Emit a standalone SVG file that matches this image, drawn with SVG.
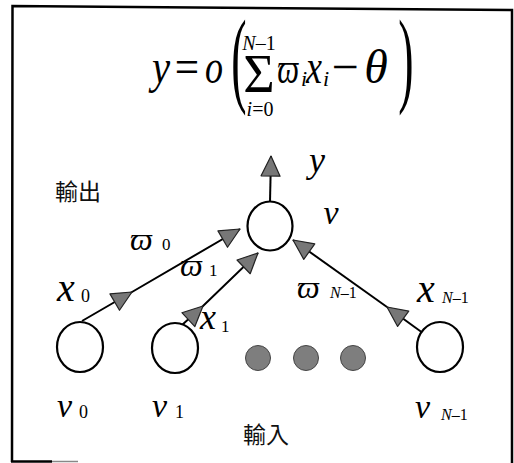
<svg xmlns="http://www.w3.org/2000/svg" width="514" height="463" viewBox="0 0 514 463">
<style>
.m{font-family:"Liberation Serif","DejaVu Serif",serif;font-style:italic;fill:#000}
.r{font-family:"Liberation Serif","DejaVu Serif",serif;font-style:normal;fill:#000}
.cjk{font-family:"Noto Sans CJK TC","Noto Sans CJK SC",sans-serif;font-size:23px;font-style:normal;fill:#111}
.node{fill:#fff;stroke:#000;stroke-width:2.2}
.dot{fill:#7e7e7e;stroke:#444;stroke-width:1}
.edge{fill:none;stroke:#000;stroke-width:2}
.frame{stroke:#000;stroke-width:2.5;fill:none}
</style>
<defs>
<marker id="ah" markerUnits="userSpaceOnUse" markerWidth="24" markerHeight="24" viewBox="-22 -12 24 24" refX="0" refY="0" orient="auto">
<path d="M0,0 L-20,-9.5 L-20,9.5 Z" fill="#777" stroke="#222" stroke-width="1.2" stroke-linejoin="round"/>
</marker>
</defs>
<g id="frame">
<path class="frame" d="M12,462 L12.5,6 L512,10 L512,463"/>
<path class="frame" d="M11,461.5 L52,461.5"/>
<path d="M52,461.5 L78,461.5" stroke="#888" stroke-width="1.5"/>
</g>
<g id="formula">
<text class="m" font-size="48" text-anchor="middle" transform="translate(161,83) scale(0.85,1)">y</text>
<text class="r" font-size="48" text-anchor="middle" transform="translate(187,83) scale(0.9,1)">=</text>
<text class="m" font-size="48" text-anchor="middle" transform="translate(214,83) scale(0.75,1)">o</text>
<text class="r" font-size="46" text-anchor="middle" transform="translate(239,93) scale(1,2.3)">(</text>
<text class="r" font-size="20" x="259" y="50" text-anchor="middle"><tspan font-style="italic">N</tspan>–1</text>
<text class="r" font-size="54" x="259" y="92" text-anchor="middle">Σ</text>
<text class="r" font-size="20" x="260" y="116" text-anchor="middle"><tspan font-style="italic">i</tspan>=0</text>
<text class="m" font-size="44" text-anchor="middle" transform="translate(288,83) scale(0.7,1)">ϖ</text>
<text class="m" font-size="22" x="301" y="86">i</text>
<text class="m" font-size="48" text-anchor="middle" transform="translate(314,83) scale(0.75,1)">x</text>
<text class="m" font-size="22" x="323" y="86">i</text>
<text class="r" font-size="48" x="345" y="83" text-anchor="middle">−</text>
<text class="m" font-size="48" x="376" y="83" text-anchor="middle">θ</text>
<text class="r" font-size="46" text-anchor="middle" transform="translate(406,93) scale(1,2.3)">)</text>
</g>
<g id="edges">
<path class="edge" d="M82,321 L132,292 L240,229" marker-mid="url(#ah)" marker-end="url(#ah)"/>
<path class="edge" d="M182,325 L203,306 L258,253" stroke-width="1.6" marker-mid="url(#ah)" marker-end="url(#ah)"/>
<path class="edge" d="M387,307 L293,240" marker-end="url(#ah)"/>
<path class="edge" d="M427,336 L387,307" stroke="#666" marker-end="url(#ah)"/>
<path class="edge" d="M270,202 L271,156" marker-end="url(#ah)"/>
</g>
<g id="output">
<ellipse class="node" cx="270" cy="226" rx="22.5" ry="24.5"/>
<text class="m" font-size="36" x="317" y="172" text-anchor="middle">y</text>
<text class="m" font-size="34" x="331" y="224" text-anchor="middle">ν</text>
<text class="cjk" x="55" y="200">輸出</text>
</g>
<g id="v0">
<ellipse class="node" cx="80" cy="347" rx="23" ry="25"/>
<text class="m" font-size="34" x="57" y="417">ν</text>
<text class="r" font-size="18" x="79" y="418">0</text>
</g>
<g id="v1">
<ellipse class="node" cx="175" cy="348" rx="23" ry="25"/>
<text class="m" font-size="34" x="152" y="417">ν</text>
<text class="r" font-size="18" x="175" y="418">1</text>
</g>
<g id="dots">
<circle cx="258" cy="358" r="12.5" class="dot"/>
<circle cx="306" cy="358" r="12.5" class="dot"/>
<circle cx="353" cy="358" r="12.5" class="dot"/>
</g>
<g id="vN">
<ellipse class="node" cx="440" cy="347" rx="23" ry="25"/>
<text class="m" font-size="34" x="415" y="418">ν</text>
<text class="m" font-size="16" x="441" y="420">N<tspan font-style="normal">–1</tspan></text>
</g>
<g id="labels">
<text class="m" font-size="32" x="130" y="250">ϖ</text>
<text class="r" font-size="17" x="162" y="250">0</text>
<text class="m" font-size="32" x="180" y="276">ϖ</text>
<text class="r" font-size="17" x="209" y="276">1</text>
<text class="m" font-size="32" x="297" y="298">ϖ</text>
<text class="m" font-size="16" x="330" y="298">N<tspan font-style="normal">–1</tspan></text>
<text class="m" font-size="40" x="57" y="301">x</text>
<text class="r" font-size="18" x="81" y="302">0</text>
<text class="m" font-size="36" x="200" y="329">x</text>
<text class="r" font-size="17" x="221" y="332">1</text>
<text class="m" font-size="40" x="417" y="302">x</text>
<text class="m" font-size="16" x="442" y="303">N<tspan font-style="normal">–1</tspan></text>
<text class="cjk" x="243" y="443">輸入</text>
</g>
</svg>
